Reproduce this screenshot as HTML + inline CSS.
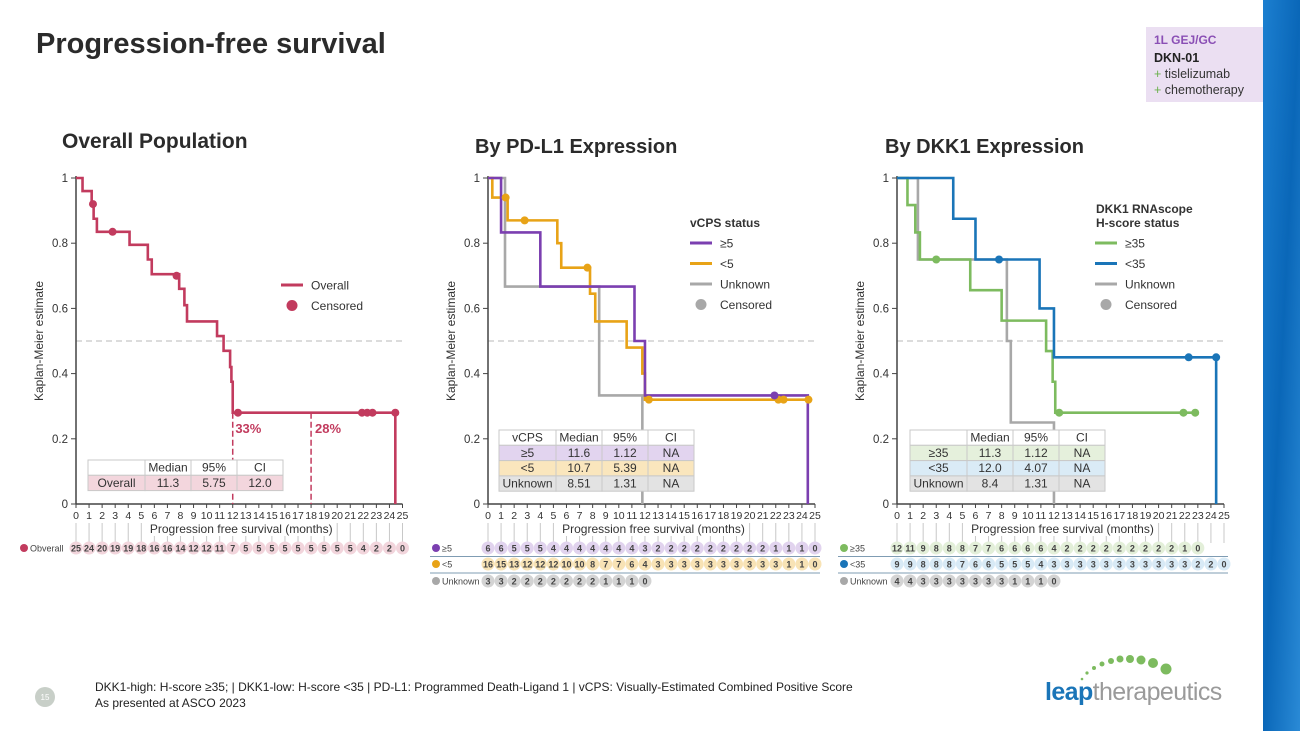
<!DOCTYPE html>
<html><head><meta charset="utf-8">
<style>
html,body{margin:0;padding:0;background:#fff;}
body{width:1300px;height:731px;overflow:hidden;position:relative;font-family:"Liberation Sans",sans-serif;}
svg text{font-family:"Liberation Sans","DejaVu Sans",sans-serif;}
</style></head>
<body>
<svg id="s" width="1300" height="731" viewBox="0 0 1300 731" xmlns="http://www.w3.org/2000/svg">
<defs>
<linearGradient id="band" x1="0" x2="1" y1="0" y2="1">
<stop offset="0" stop-color="#1c7fd0"/><stop offset="0.5" stop-color="#0a67b8"/><stop offset="1" stop-color="#2a8ad6"/>
</linearGradient>
</defs>
<rect x="1263" y="0" width="37" height="731" fill="url(#band)"/>
<text x="36" y="53" font-size="29" font-weight="bold" fill="#2b2b2b">Progression-free survival</text>
<g>
<rect x="1146" y="27" width="117" height="75" fill="#ebdff2"/>
<text x="1154" y="44" font-size="12" font-weight="bold" fill="#8a4fb5">1L GEJ/GC</text>
<text x="1154" y="62" font-size="12.5" font-weight="bold" fill="#222">DKN-01</text>
<text x="1154" y="78" font-size="12.5" fill="#333"><tspan fill="#6ab04c">+</tspan> tislelizumab</text>
<text x="1154" y="94" font-size="12.5" fill="#333"><tspan fill="#6ab04c">+</tspan> chemotherapy</text>
</g>
<text x="62" y="148" font-size="21" font-weight="bold" fill="#2b2b2b">Overall Population</text>
<text x="475" y="153" font-size="20" font-weight="bold" fill="#2b2b2b">By PD-L1 Expression</text>
<text x="885" y="153" font-size="20" font-weight="bold" fill="#2b2b2b">By DKK1 Expression</text>
<circle cx="45" cy="697" r="10" fill="#c8cfc8"/>
<text x="45" y="700" font-size="8" fill="#fff" text-anchor="middle">15</text>
<text x="95" y="691" font-size="12" fill="#222">DKK1-high: H-score ≥35; | DKK1-low: H-score &lt;35 | PD-L1: Programmed Death-Ligand 1 | vCPS: Visually-Estimated Combined Positive Score</text>
<text x="95" y="707" font-size="12" fill="#222">As presented at ASCO 2023</text>
<g>
<circle cx="1082" cy="679" r="1.3" fill="#7dbb5f"/><circle cx="1087" cy="673" r="1.6" fill="#7dbb5f"/><circle cx="1094" cy="668" r="2" fill="#7dbb5f"/>
<circle cx="1102" cy="664" r="2.5" fill="#7dbb5f"/><circle cx="1111" cy="661" r="3" fill="#7dbb5f"/><circle cx="1120" cy="659" r="3.5" fill="#7dbb5f"/>
<circle cx="1130" cy="659" r="4" fill="#7dbb5f"/><circle cx="1141" cy="660" r="4.5" fill="#7dbb5f"/><circle cx="1153" cy="663" r="5" fill="#7dbb5f"/>
<circle cx="1166" cy="669" r="5.5" fill="#7dbb5f"/>
<text x="1045" y="700" font-size="25" fill="#1a75b8" font-weight="bold" letter-spacing="-0.6">leap<tspan fill="#9a9a9a" font-weight="normal">therapeutics</tspan></text>
</g>
<g id="charts"></g>
</svg>
<script>
// ---- data ----
const months = [0,1,2,3,4,5,6,7,8,9,10,11,12,13,14,15,16,17,18,19,20,21,22,23,24,25];
const yTicks = [0,0.2,0.4,0.6,0.8,1];
// Overall
const ovT = [0,0.5,1.2,1.35,1.6,4.1,5.5,5.8,7.9,8.3,8.5,10.8,11.3,11.8,11.9,12.0,24.45];
const ovS = [1,0.96,0.92,0.875,0.835,0.795,0.75,0.705,0.66,0.61,0.56,0.515,0.47,0.42,0.375,0.28,0];
const ovCensT = [1.3,2.8,7.7,12.4,21.9,22.3,22.7,24.45];
const ovRisk = [25,24,20,19,19,18,16,16,14,12,12,11,7,5,5,5,5,5,5,5,5,5,4,2,2,0];
// PD-L1
const p5T = [0,1.0,4.0,11.2,12.0,24.45];
const p5S = [1,0.833,0.667,0.5,0.333,0];
const p5CensT = [21.9]; const p5CensS=[0.333];
const pl5T = [0,0.33,1.5,5.3,5.6,7.8,8.2,10.6,11.8,12.0,24.5];
const pl5S = [1,0.94,0.87,0.80,0.725,0.645,0.56,0.48,0.40,0.32,0.32];
const pl5CensT = [1.35,2.8,7.6,12.3,22.2,22.6,24.5]; const pl5CensS=[0.94,0.87,0.725,0.32,0.32,0.32,0.32];
const puT = [0,1.3,8.5,11.8];
const puS = [1,0.667,0.333,0];
const p5Risk = [6,6,5,5,5,4,4,4,4,4,4,4,3,2,2,2,2,2,2,2,2,2,1,1,1,0];
const pl5Risk = [16,15,13,12,12,12,10,10,8,7,7,6,4,3,3,3,3,3,3,3,3,3,3,1,1,0];
const puRisk = [3,3,2,2,2,2,2,2,2,1,1,1,0];
// DKK1
const dhT = [0,0.8,1.4,1.75,5.6,8.0,11.4,11.9,12.1,22.8];
const dhS = [1,0.917,0.833,0.75,0.656,0.5625,0.469,0.375,0.28,0.28];
const dhCensT=[3.0,12.4,21.9,22.8]; const dhCensS=[0.75,0.28,0.28,0.28];
const dlT = [0,4.3,6.0,10.9,12.0,24.4];
const dlS = [1,0.875,0.75,0.6,0.45,0];
const dlCensT=[7.8,22.3,24.4]; const dlCensS=[0.75,0.45,0.45];
const duT = [0,1.6,8.4,8.7,12.0];
const duS = [1,0.75,0.5,0.25,0];
const dhRisk = [12,11,9,8,8,8,7,7,6,6,6,6,4,2,2,2,2,2,2,2,2,2,1,0];
const dlRisk = [9,9,8,8,8,7,6,6,5,5,5,4,3,3,3,3,3,3,3,3,3,3,3,2,2,0];
const duRisk = [4,4,3,3,3,3,3,3,3,1,1,1,0];

const NS='http://www.w3.org/2000/svg';
const root=document.getElementById('charts');
function mk(tag,attrs,parent,txt){const e=document.createElementNS(NS,tag);for(const k in attrs)e.setAttribute(k,attrs[k]);if(txt!==undefined)e.textContent=txt;(parent||root).appendChild(e);return e;}

function chart(name,x0,x1){
  const y0=504,y1=178;
  const g=mk('g',{});
  
  
  const sx=t=>x0+(x1-x0)*t/25, sy=v=>y0-(y0-y1)*v;
  const ref=mk('line',{x1:x0,x2:x1,y1:sy(0.5),y2:sy(0.5),stroke:'#c8c8c8','stroke-width':1.2,'stroke-dasharray':'6,4'},g);
  
  
  mk('line',{x1:x0,x2:x0,y1:y1-2,y2:y0,stroke:'#444','stroke-width':1.5},g);
  mk('line',{x1:x0,x2:x1,y1:y0,y2:y0,stroke:'#444','stroke-width':1.5},g);
  yTicks.forEach(v=>{
    mk('line',{x1:x0-5,x2:x0,y1:sy(v),y2:sy(v),stroke:'#444'},g);
    const t=mk('text',{x:x0-8,y:sy(v)+4,'font-size':11.5,fill:'#333','text-anchor':'end'},g,String(v));
    
    
  });
  months.forEach(m=>{
    mk('line',{x1:sx(m),x2:sx(m),y1:y0,y2:y0+4,stroke:'#444'},g);
    mk('line',{x1:sx(m),x2:sx(m),y1:523,y2:543,stroke:'#c8c8c8'},g);
    const t=mk('text',{x:sx(m),y:y0+15,'font-size':10.5,fill:'#333','text-anchor':'middle'},g,String(m));
    
    
  });
  const cx=(x0+x1)/2;
  mk('rect',{x:cx-96,y:521,width:192,height:15,fill:'#fff'},g);
  const xt=mk('text',{x:cx+2,y:533,'font-size':12,fill:'#333','text-anchor':'middle'},g,'Progression free survival (months)');
  
  
  const yt=mk('text',{transform:`translate(${x0-33},${(y0+y1)/2}) rotate(-90)`,'font-size':12,fill:'#333','text-anchor':'middle'},g,'Kaplan-Meier estimate');
  
  
  return {g,sx,sy};
}
function curve(c,T,S,color,name,w){
  let d=`M${c.sx(T[0])},${c.sy(S[0])}`;
  for(let i=1;i<T.length;i++){d+=`H${c.sx(T[i])}V${c.sy(S[i])}`;}
  const p=mk('path',{d,fill:'none',stroke:color,'stroke-width':w||2.6},c.g);
  
  
}
function cens(c,T,S,color,name){
  T.forEach((t,i)=>{
    const e=mk('circle',{cx:c.sx(t),cy:c.sy(S[i]),r:4,fill:color},c.g);
    
    
  });
}
function risk(c,arr,y,fill,label,dot,lx){
  arr.forEach((n,i)=>{
    const cc=mk('circle',{cx:c.sx(months[i]),cy:y,r:6.5,fill:fill},c.g);
    
    
    mk('text',{x:c.sx(months[i]),y:y+3.5,'font-size':9,'font-weight':'bold',fill:'#444','text-anchor':'middle'},c.g,String(n));
  });
  mk('circle',{cx:lx,cy:y,r:4,fill:dot},c.g);
  const t=mk('text',{x:lx+6,y:y+3.5,'font-size':9,fill:'#444'},c.g,label);
  
  
}
function legend(c,x,y,items){
  items.forEach((it,i)=>{
    const yy=y+i*20.5;
    if(it[2]==='dot') mk('circle',{cx:x+13,cy:yy,r:5.5,fill:it[1]},c.g);
    else mk('line',{x1:x+2,x2:x+24,y1:yy,y2:yy,stroke:it[1],'stroke-width':3},c.g);
    const t=mk('text',{x:x+32,y:yy+4.5,'font-size':12,fill:'#333'},c.g,it[0]);
    
    
  });
}
function medTable(c,x,y,cols,rows){
  const widths=[57,46,46,46], rh=15.3;
  const all=[[[...cols],'#fff']].concat(rows);
  const tg=mk('g',{},c.g);
  
  
  all.forEach((r,ri)=>{
    let xx=x;
    r[0].forEach((cell,ci)=>{
      mk('rect',{x:xx,y:y+ri*rh,width:widths[ci],height:rh,fill:r[1],stroke:'#c9c9c9','stroke-width':1},tg);
      mk('text',{x:xx+widths[ci]/2,y:y+ri*rh+11.5,'font-size':12,fill:'#333','text-anchor':'middle'},tg,cell);
      xx+=widths[ci];
    });
  });
}

// Chart 1
const c1=chart('overall-km-chart',76,402.5);
curve(c1,ovT,ovS,'#c23b5e','overall-curve');
const ovDash=[12,18];
ovDash.forEach(t=>{mk('line',{x1:c1.sx(t),x2:c1.sx(t),y1:c1.sy(0.28),y2:c1.sy(0),stroke:'#c23b5e','stroke-width':1.5,'stroke-dasharray':'6,3'},c1.g);});
cens(c1,ovCensT,ovCensT.map(t=>t<1.5?0.92:t<3?0.835:t<8?0.70:0.28),'#c23b5e','overall-censor');
mk('text',{x:c1.sx(12.2),y:c1.sy(0.233)+5,'font-size':13,'font-weight':'bold',fill:'#c23b5e'},c1.g,'33%');
mk('text',{x:c1.sx(18.3),y:c1.sy(0.233)+5,'font-size':13,'font-weight':'bold',fill:'#c23b5e'},c1.g,'28%');
legend(c1,279,285,[['Overall','#c23b5e','line'],['Censored','#c23b5e','dot']]);
medTable(c1,88,460,['','Median','95%','CI'],[[['Overall','11.3','5.75','12.0'],'#f3d6dd']]);
risk(c1,ovRisk,548,'#f2d5dc','Obverall','#c23b5e',24);

// Chart 2
const c2=chart('pdl1-km-chart',488,815);
curve(c2,puT,puS,'#a8a8a8','pdl1-unknown-curve');
curve(c2,pl5T,pl5S,'#e8a317','pdl1-lt5-curve');
curve(c2,p5T,p5S,'#7b3fb0','pdl1-ge5-curve');
cens(c2,pl5CensT,pl5CensS,'#e8a317','pdl1-lt5-censor');
cens(c2,p5CensT,p5CensS,'#7b3fb0','pdl1-ge5-censor');
mk('text',{x:690,y:227,'font-size':12,'font-weight':'bold',fill:'#333'},c2.g,'vCPS status');
legend(c2,688,243,[['≥5','#7b3fb0','line'],['<5','#e8a317','line'],['Unknown','#a8a8a8','line'],['Censored','#a8a8a8','dot']]);
medTable(c2,499,430,['vCPS','Median','95%','CI'],[[['≥5','11.6','1.12','NA'],'#e2d4ef'],[['<5','10.7','5.39','NA'],'#fae6bd'],[['Unknown','8.51','1.31','NA'],'#e3e3e3']]);
mk('line',{x1:430,x2:820,y1:556.5,y2:556.5,stroke:'#7f9cb3','stroke-width':1},c2.g);
mk('line',{x1:430,x2:820,y1:573,y2:573,stroke:'#7f9cb3','stroke-width':1},c2.g);
risk(c2,p5Risk,548,'#e1d3ee','≥5','#7b3fb0',436);
risk(c2,pl5Risk,564,'#f8e3b5','<5','#e8a317',436);
risk(c2,puRisk,581,'#d3d3d3','Unknown','#a8a8a8',436);

// Chart 3
const c3=chart('dkk1-km-chart',897,1224);
curve(c3,duT,duS,'#a8a8a8','dkk1-unknown-curve');
curve(c3,dhT,dhS,'#7dbb5f','dkk1-high-curve');
curve(c3,dlT,dlS,'#1a75b8','dkk1-low-curve');
cens(c3,dhCensT,dhCensS,'#7dbb5f','dkk1-high-censor');
cens(c3,dlCensT,dlCensS,'#1a75b8','dkk1-low-censor');
mk('text',{x:1096,y:213,'font-size':12,'font-weight':'bold',fill:'#333'},c3.g,'DKK1 RNAscope');
mk('text',{x:1096,y:227,'font-size':12,'font-weight':'bold',fill:'#333'},c3.g,'H-score status');
legend(c3,1093,243,[['≥35','#7dbb5f','line'],['<35','#1a75b8','line'],['Unknown','#a8a8a8','line'],['Censored','#a8a8a8','dot']]);
medTable(c3,910,430,['','Median','95%','CI'],[[['≥35','11.3','1.12','NA'],'#e5f0dc'],[['<35','12.0','4.07','NA'],'#daebf6'],[['Unknown','8.4','1.31','NA'],'#e3e3e3']]);
mk('line',{x1:838,x2:1228,y1:556.5,y2:556.5,stroke:'#7f9cb3','stroke-width':1},c3.g);
mk('line',{x1:838,x2:1228,y1:573,y2:573,stroke:'#7f9cb3','stroke-width':1},c3.g);
risk(c3,dhRisk,548,'#e3efd9','≥35','#7dbb5f',844);
risk(c3,dlRisk,564,'#d8eaf6','<35','#1a75b8',844);
risk(c3,duRisk,581,'#d3d3d3','Unknown','#a8a8a8',844);
</script>
</body></html>
